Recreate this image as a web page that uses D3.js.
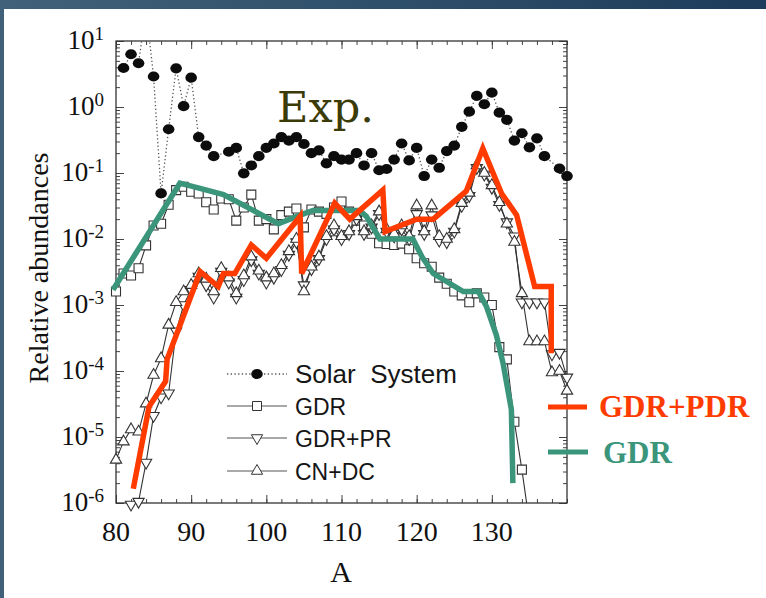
<!DOCTYPE html>
<html>
<head>
<meta charset="utf-8">
<script src="https://cdn.jsdelivr.net/npm/d3@7"></script>
<style>
html, body { margin: 0; padding: 0; background: #fff; }
svg { display: block; }
</style>
</head>
<body>
<svg id="chart" width="766" height="598"></svg>
<script>
// ---- data ----
var solarA = [81,82,83,84,85,86,87,88,89,90,91,92,93,95,96,97,98,99,100,101,
              102,103,104,105,106,107,108,109,110,111,112,113,114,115,116,117,118,119,120,121,
              122,123,124,125,126,127,128,129,130,131,132,133,134,135,136,137,139,140];
var solarY = [3.9,6.3,4.6,30,2.9,0.049,0.46,3.86,1.03,2.78,0.35,0.26,0.18,0.21,0.24,0.099,0.13,0.18,0.24,0.28,
              0.35,0.31,0.35,0.275,0.2,0.22,0.14,0.18,0.16,0.16,0.2,0.13,0.2,0.11,0.115,0.16,0.28,0.155,0.24,0.09,
              0.16,0.12,0.215,0.26,0.5,0.85,1.47,1.1,1.65,0.82,0.64,0.31,0.4,0.245,0.335,0.18,0.117,0.09];

var gdrA = [80,81,82,83,84,85,86,87,88,89,90,91,92,93,94,95,96,97,98,99,
            100,101,102,103,104,105,106,107,108,109,110,111,112,113,114,115,116,117,118,119,
            120,121,122,123,124,125,126,127,128,129,130,131,132,133,134,135];
var gdrY = [1.6e-3,3.0e-3,2.8e-3,3.6e-3,8.0e-3,1.6e-2,1.7e-2,3.3e-2,5.5e-2,6.2e-2,5.2e-2,4.9e-2,3.6e-2,2.8e-2,4.1e-2,4.0e-2,1.9e-2,3.0e-2,4.7e-2,1.9e-2,
            2.0e-2,1.4e-2,2.3e-2,2.6e-2,2.9e-2,1.5e-2,2.8e-2,2.6e-2,2.4e-2,3.0e-2,3.7e-2,2.6e-2,1.9e-2,1.6e-2,1.2e-2,8.6e-3,8.4e-3,8.1e-3,8.5e-3,7.0e-3,
            5.1e-3,4.3e-3,3.8e-3,2.6e-3,2.1e-3,1.6e-3,1.4e-3,1.1e-3,1.5e-3,1.3e-3,1.0e-3,2.3e-4,1.5e-4,1.7e-5,3.2e-6,5e-7];

var prA = [82,83,84,85,86,87,88,89,90,91,92,93,94,95,96,97,98,99,
           100,101,102,103,104,105,106,107,108,109,110,111,112,113,114,115,116,117,118,119,
           120,121,122,123,124,125,126,127,128,129,130,131,132,133,134,135,136,137,138,139,140];
var prY = [9.5e-7,1.05e-6,4.1e-6,2.1e-5,4.0e-5,4.6e-5,4.0e-4,1.0e-3,1.7e-3,2.7e-3,2.0e-3,1.3e-3,3.2e-3,2.2e-3,1.3e-3,2.4e-3,4.8e-3,3.0e-3,
           2.2e-3,2.6e-3,3.4e-3,5.8e-3,9.0e-3,2.0e-3,3.5e-3,5.0e-3,1.0e-2,1.4e-2,1.0e-2,1.2e-2,2.0e-2,1.2e-2,1.5e-2,2.4e-2,1.3e-2,1.1e-2,1.4e-2,1.0e-2,
           2.4e-2,1.2e-2,2.3e-2,9.5e-3,9.0e-3,1.3e-2,3.2e-2,4.5e-2,0.12,0.095,0.06,3.3e-2,1.8e-2,1.1e-2,1.1e-3,1.1e-3,1.1e-3,1.1e-3,1.8e-4,1.9e-4,8e-5];

var cnA = [80,81,82,83,84,85,86,87,88,89,90,91,92,93,94,95,96,97,98,99,
           100,101,102,103,104,105,106,107,108,109,110,111,112,113,114,115,116,117,118,119,
           120,121,122,123,124,125,126,127,128,129,130,131,132,133,134,135,136,137,138,139,140];
var cnY = [4.5e-6,8.5e-6,1.3e-5,1.2e-5,3.2e-5,8.7e-5,1.55e-4,5.0e-4,1.1e-3,1.6e-3,2.0e-3,3.0e-3,2.5e-3,1.6e-3,3.6e-3,2.6e-3,1.5e-3,2.8e-3,5.4e-3,3.3e-3,
           2.6e-3,3.0e-3,4.0e-3,6.5e-3,1.0e-2,1.6e-3,3.8e-3,5.4e-3,1.1e-2,1.6e-2,1.1e-2,1.3e-2,2.2e-2,1.3e-2,1.6e-2,2.6e-2,1.4e-2,1.2e-2,1.6e-2,1.1e-2,
           3.2e-2,1.3e-2,3.2e-2,1.1e-2,1.0e-2,1.4e-2,3.5e-2,5.0e-2,0.13,0.10,0.065,3.6e-2,1.7e-2,9.0e-3,1.5e-3,2.8e-4,2.8e-4,2.8e-4,9.5e-5,1.0e-4,5e-5];

// thick overlay curves
var greenA = [79.6,88.5,89.4,94.3,101.6,104.5,106.2,108.5,112.4,113.3,115.1,119.5,120.7,122.2,126.2,128.2,129.3,130.6,131.5,132.6,132.8];
var greenY = [1.7e-3,7.0e-2,6.6e-2,4.7e-2,1.7e-2,2.3e-2,2.7e-2,2.7e-2,2.7e-2,2.2e-2,1.0e-2,1.0e-2,5.4e-3,3.0e-3,1.6e-3,1.6e-3,9.4e-4,3.5e-4,1.3e-4,2.6e-5,2.0e-6];

var redA = [82.3,84.4,86.6,86.8,91.2,93.6,94.3,95.8,98.0,100.0,104.5,104.7,109.1,111.1,115.5,115.8,120.0,122.2,126.6,128.8,131.3,133.3,135.7,137.9,137.9];
var redY = [1.65e-6,2.9e-5,7.0e-5,1.5e-4,3.2e-3,1.9e-3,3.0e-3,3.0e-3,8.1e-3,5.1e-3,2.2e-2,3.0e-3,3.5e-2,2.0e-2,5.5e-2,1.3e-2,2.0e-2,2.0e-2,5.3e-2,0.236,4.9e-2,2.3e-2,1.9e-3,1.9e-3,1.85e-4];

var xTicks = [80, 90, 100, 110, 120, 130];
var yTicks = [10, 1, 0.1, 0.01, 1e-3, 1e-4, 1e-5, 1e-6];
var yExp = ['1', '0', '-1', '-2', '-3', '-4', '-5', '-6'];

var legendNames = ['Solar  System', 'GDR', 'GDR+PR', 'CN+DC'];

function drawChart() {

   var svg = d3.select('#chart');
   var pLeft = 116, pRight = 567, pTop = 41, pBottom = 503;

   var x = d3.scaleLinear().domain([80, 140]).range([pLeft, pRight]);
   var y = d3.scaleLog().domain([1e-6, 10]).range([pBottom, pTop]);

   function zip(a, v) { return a.map(function(d, i) { return [d, v[i]]; }); }

   var defs = svg.append('defs');
   var grad = defs.append('linearGradient').attr('id', 'frame')
       .attr('x1', 0).attr('x2', 1).attr('y1', 0).attr('y2', 0);
   grad.append('stop').attr('offset', 0).attr('stop-color', '#41617b');
   grad.append('stop').attr('offset', 0.5).attr('stop-color', '#2f506a');
   grad.append('stop').attr('offset', 1).attr('stop-color', '#1d3b5b');
   defs.append('clipPath').attr('id', 'plotclip')
       .append('rect').attr('x', pLeft).attr('y', pTop)
       .attr('width', pRight - pLeft).attr('height', pBottom - pTop);

   svg.append('rect').attr('width', 766).attr('height', 598).attr('fill', 'url(#frame)');
   svg.append('rect').attr('x', 4).attr('y', 9).attr('width', 762).attr('height', 589).attr('fill', '#fff');

   // ---- axes (ticks point inward on all four sides) ----
   function bare(g) {
      g.select('.domain').remove();
      g.selectAll('text').remove();
      g.selectAll('line').attr('stroke', '#444').attr('stroke-width', 1);
   }
   var xMinor = d3.range(80, 141, 2);
   var yMinor = y.ticks();

   svg.append('g').attr('transform', 'translate(0,' + pBottom + ')')
      .call(d3.axisBottom(x).tickValues(xMinor).tickSize(-4)).call(bare);
   svg.append('g').attr('transform', 'translate(0,' + pBottom + ')')
      .call(d3.axisBottom(x).tickValues(xTicks).tickSize(-8)).call(bare);
   svg.append('g').attr('transform', 'translate(0,' + pTop + ')')
      .call(d3.axisTop(x).tickValues(xMinor).tickSize(-4)).call(bare);
   svg.append('g').attr('transform', 'translate(0,' + pTop + ')')
      .call(d3.axisTop(x).tickValues(xTicks).tickSize(-8)).call(bare);
   svg.append('g').attr('transform', 'translate(' + pLeft + ',0)')
      .call(d3.axisLeft(y).tickValues(yMinor).tickSize(-4)).call(bare);
   svg.append('g').attr('transform', 'translate(' + pLeft + ',0)')
      .call(d3.axisLeft(y).tickValues(yTicks).tickSize(-8)).call(bare);
   svg.append('g').attr('transform', 'translate(' + pRight + ',0)')
      .call(d3.axisRight(y).tickValues(yMinor).tickSize(-4)).call(bare);
   svg.append('g').attr('transform', 'translate(' + pRight + ',0)')
      .call(d3.axisRight(y).tickValues(yTicks).tickSize(-8)).call(bare);

   svg.append('rect').attr('x', pLeft).attr('y', pTop)
      .attr('width', pRight - pLeft).attr('height', pBottom - pTop)
      .attr('fill', 'none').attr('stroke', '#333').attr('stroke-width', 1.3);

   // tick labels
   svg.selectAll('.xlab').data(xTicks).enter().append('text')
      .attr('x', function(d) { return x(d); })
      .attr('y', 541)
      .attr('text-anchor', 'middle')
      .style('font-family', '"Liberation Serif", serif')
      .style('font-size', '28px')
      .attr('fill', '#111')
      .text(function(d) { return d; });

   var ylab = svg.selectAll('.ylab').data(yTicks).enter().append('text')
      .attr('x', 104)
      .attr('y', function(d) { return y(d) + 8; })
      .attr('text-anchor', 'end')
      .style('font-family', '"Liberation Serif", serif')
      .style('font-size', '27px')
      .attr('fill', '#111');
   ylab.append('tspan').text('10');
   ylab.append('tspan').attr('dy', -9).style('font-size', '19px')
      .text(function(d, i) { return yExp[i]; });

   svg.append('text')
      .attr('x', 341).attr('y', 582)
      .attr('text-anchor', 'middle')
      .style('font-family', '"Liberation Serif", serif')
      .style('font-size', '30px')
      .attr('fill', '#111')
      .text('A');

   svg.append('text')
      .attr('transform', 'translate(48,268) rotate(-90)')
      .attr('text-anchor', 'middle')
      .style('font-family', '"Liberation Serif", serif')
      .style('font-size', '28px')
      .attr('fill', '#111')
      .text('Relative abundances');

   // ---- model series (thin lines + open markers) ----
   var line = d3.line()
      .x(function(d) { return x(d[0]); })
      .y(function(d) { return y(d[1]); });

   var inside = function(d) { return d[1] >= 1e-6 * 0.85 && d[1] <= 10; };

   var sqr = d3.symbol(d3.symbolSquare, 81);
   var tri = d3.symbol(d3.symbolTriangle, 55);

   var series = [
      { pts: zip(gdrA, gdrY), mark: sqr, rot: 0 },
      { pts: zip(prA, prY), mark: tri, rot: 180 },
      { pts: zip(cnA, cnY), mark: tri, rot: 0 }
   ];

   var lines = svg.append('g').attr('clip-path', 'url(#plotclip)');
   series.forEach(function(s) {
      lines.append('path').datum(s.pts)
         .attr('d', line)
         .attr('fill', 'none')
         .attr('stroke', '#333')
         .attr('stroke-width', 1.1);
   });

   series.forEach(function(s) {
      svg.append('g').selectAll('path').data(s.pts.filter(inside)).enter().append('path')
         .attr('d', s.mark)
         .attr('transform', function(d) {
            return 'translate(' + x(d[0]) + ',' + y(d[1]) + ') rotate(' + s.rot + ')';
         })
         .attr('fill', '#fff')
         .attr('stroke', '#333')
         .attr('stroke-width', 1.1);
   });

   // solar system: dotted line with filled dots
   var solar = zip(solarA, solarY);
   lines.append('path').datum(solar)
      .attr('d', line)
      .attr('fill', 'none')
      .attr('stroke', '#555')
      .attr('stroke-width', 1.3)
      .attr('stroke-dasharray', '1.3,2.4');

   svg.append('g').selectAll('ellipse').data(solar.filter(inside)).enter().append('ellipse')
      .attr('cx', function(d) { return x(d[0]); })
      .attr('cy', function(d) { return y(d[1]); })
      .attr('rx', 5.8)
      .attr('ry', 5.1)
      .attr('fill', '#0c0c0c');

   // ---- legend inside plot ----
   var legY = [374, 406, 438, 471];
   var leg = svg.append('g');
   legendNames.forEach(function(name, i) {
      var cy = legY[i];
      leg.append('line').attr('x1', 227).attr('x2', 287).attr('y1', cy).attr('y2', cy)
         .attr('stroke', '#555').attr('stroke-width', i === 0 ? 1.3 : 1.1)
         .attr('stroke-dasharray', i === 0 ? '1.3,2.4' : null);
      if (i === 0) {
         leg.append('ellipse').attr('cx', 257).attr('cy', cy).attr('rx', 5.8).attr('ry', 5.1).attr('fill', '#0c0c0c');
      } else {
         var s = series[i - 1];
         leg.append('path').attr('d', s.mark)
            .attr('transform', 'translate(257,' + cy + ') rotate(' + s.rot + ')')
            .attr('fill', '#fff').attr('stroke', '#333');
      }
      leg.append('text')
         .attr('x', 295).attr('y', cy + 8.5)
         .style('font-family', '"Liberation Sans", Arial, sans-serif')
         .style('font-size', i === 0 ? '26px' : '23px')
         .style('white-space', 'pre')
         .attr('fill', '#151515')
         .text(name);
   });

   // ---- thick overlay curves ----
   var green = '#3a957a', red = '#ff3b00';
   svg.append('path').datum(zip(greenA, greenY))
      .attr('d', line).attr('fill', 'none')
      .attr('stroke', green).attr('stroke-width', 5.5)
      .attr('stroke-linejoin', 'miter');
   svg.append('path').datum(zip(redA, redY))
      .attr('d', line).attr('fill', 'none')
      .attr('stroke', red).attr('stroke-width', 5.5)
      .attr('stroke-linejoin', 'miter');

   // side legend for overlays
   svg.append('line').attr('x1', 548).attr('x2', 587).attr('y1', 407).attr('y2', 407)
      .attr('stroke', red).attr('stroke-width', 5);
   svg.append('text').attr('x', 599).attr('y', 417)
      .style('font-family', '"Liberation Serif", serif')
      .style('font-size', '31px').style('font-weight', 'bold')
      .attr('fill', red).text('GDR+PDR');
   svg.append('line').attr('x1', 548).attr('x2', 588).attr('y1', 452).attr('y2', 452)
      .attr('stroke', green).attr('stroke-width', 5);
   svg.append('text').attr('x', 603).attr('y', 463)
      .style('font-family', '"Liberation Serif", serif')
      .style('font-size', '31px').style('font-weight', 'bold')
      .attr('fill', green).text('GDR');

   svg.append('text').attr('x', 277).attr('y', 122)
      .style('font-family', '"DejaVu Serif", serif')
      .style('font-size', '43px')
      .attr('fill', '#3b3b08')
      .text('Exp.');
}

drawChart();
</script>
</body>
</html>
